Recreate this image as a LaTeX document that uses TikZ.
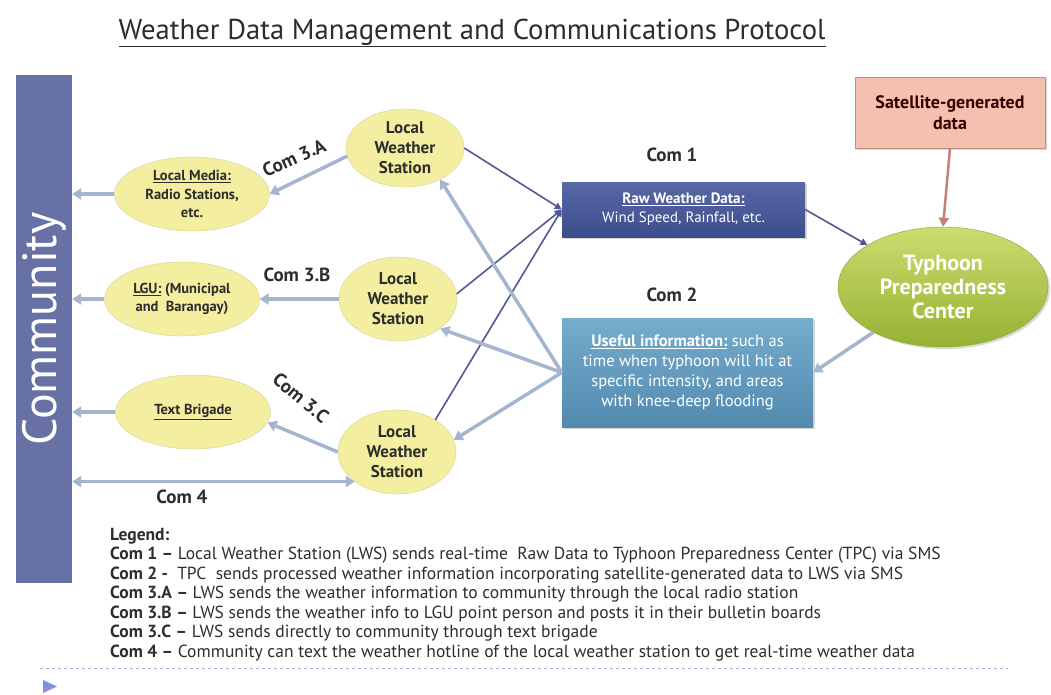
\documentclass[tikz,border=0pt]{standalone}
\usepackage{fontspec}
\setmainfont{PT Sans}
\usetikzlibrary{arrows.meta,shapes.geometric,shadows}

\definecolor{barblue}{RGB}{104,113,166}
\definecolor{lwsyellow}{RGB}{243,238,160}
\definecolor{lwsedge}{RGB}{214,208,150}
\definecolor{rawtop}{RGB}{88,104,166}
\definecolor{rawbot}{RGB}{62,76,138}
\definecolor{usetop}{RGB}{118,172,204}
\definecolor{usebot}{RGB}{82,138,176}
\definecolor{tpctop}{RGB}{204,220,112}
\definecolor{tpcbot}{RGB}{150,178,50}
\definecolor{tpcedge}{RGB}{140,165,58}
\definecolor{satfill}{RGB}{244,192,176}
\definecolor{satedge}{RGB}{200,140,125}
\definecolor{lightline}{RGB}{164,182,206}
\definecolor{darkline}{RGB}{84,88,146}
\definecolor{satline}{RGB}{195,128,117}
\definecolor{txtgrey}{RGB}{45,45,45}

\begin{document}
\begin{tikzpicture}[x=1pt, y=-1pt,
    bar/.style={rectangle, fill=barblue, minimum width=508, minimum height=56, rotate=90, text=white, font=\fontsize{48}{48}\selectfont},
    station/.style={ellipse, draw=lwsedge, fill=lwsyellow, minimum width=118, minimum height=84, inner sep=0pt, align=center, text=txtgrey, font=\fontsize{17}{20}\selectfont\bfseries},
    target/.style={ellipse, draw=lwsedge, fill=lwsyellow, minimum width=155, minimum height=74, inner sep=0pt, align=center, text=txtgrey, font=\fontsize{14.5}{18.5}\selectfont\bfseries},
    databox/.style={rectangle, inner sep=0pt, align=center, text=white, font=\fontsize{15}{19}\selectfont, drop shadow={opacity=0.3, shadow xshift=2pt, shadow yshift=-2pt}},
    comlabel/.style={text=txtgrey, font=\fontsize{19}{19}\selectfont\bfseries},
    lightarrow/.style={draw=lightline, line width=3.5pt, -{Triangle[length=9pt, width=11pt]}},
    darkarrow/.style={draw=darkline, line width=1.6pt, -{Triangle[length=7pt, width=7pt]}}
]
    \useasboundingbox (0,0) rectangle (1051,694);

    % Title
    \node[text=txtgrey, font=\fontsize{28.7}{30}\selectfont] (title) at (472,33) {\underline{Weather Data Management and Communications Protocol}};

    % Community
    \node[bar] (community) at (44,329) {Community};

    % Receivers
    \node[target] (media) at (192,194) {\underline{Local Media:}\\Radio Stations,\\etc.};
    \node[target] (lgu) at (182,299) {\underline{LGU:} (Municipal\\and\ \ Barangay)};
    \node[target] (brigade) at (193,412) {\underline{Text Brigade}};

    % Local weather stations
    \node[station, minimum height=78] (lws1) at (405,148) {Local\\Weather\\Station};
    \node[station] (lws2) at (398,299) {Local\\Weather\\Station};
    \node[station] (lws3) at (397,452) {Local\\Weather\\Station};

    % Data boxes
    \node[databox, top color=rawtop, bottom color=rawbot, minimum width=243, minimum height=55] (raw) at (683.5,209.5) {\textbf{\underline{Raw Weather Data:}}\\Wind Speed, Rainfall, etc.};
    \node[databox, top color=usetop, bottom color=usebot, minimum width=251, minimum height=109, font=\fontsize{16.5}{20}\selectfont] (useful) at (687.5,372.5) {\textbf{\underline{Useful information:}} such as\\time when typhoon will hit at\\specific intensity, and areas\\with knee-deep flooding};
    \node[databox, fill=satfill, draw=satedge, text=black!80!red, minimum width=190, minimum height=71, font=\fontsize{18}{21}\selectfont\bfseries] (sat) at (950,112.5) {Satellite-generated\\data};
    \node[ellipse, draw=tpcedge, top color=tpctop, bottom color=tpcbot, minimum width=210, minimum height=120, inner sep=0pt, align=center, text=white, font=\fontsize{22}{24}\selectfont\bfseries, drop shadow={opacity=0.3, shadow xshift=2pt, shadow yshift=-2pt}] (tpc) at (943,287) {Typhoon\\Preparedness\\Center};

    % Labels
    \node[comlabel, rotate=24] (l3a) at (294,158) {Com 3.A};
    \node[comlabel] (l3b) at (297,275) {Com 3.B};
    \node[comlabel, rotate=-40] (l3c) at (301,398) {Com 3.C};
    \node[comlabel] (l4) at (182,497) {Com 4};
    \node[comlabel] (l1) at (672,155) {Com 1};
    \node[comlabel] (l2) at (672,295) {Com 2};

    % Com 3 and Com 4
    \draw[lightarrow] (lws1.188) -- (media.east);
    \draw[lightarrow] (lws2.west) -- (lgu.east);
    \draw[lightarrow] (lws3.west) -- (brigade.-8);
    \draw[lightarrow] (media.west) -- (media.west -| community.south);
    \draw[lightarrow] (lgu.west) -- (lgu.west -| community.south);
    \draw[lightarrow] (brigade.west) -- (brigade.west -| community.south);
    \draw[lightarrow, {Triangle[length=9pt, width=11pt]}-{Triangle[length=9pt, width=11pt]}] (lws3.215) -- (lws3.215 -| community.south);

    % Com 1
    \draw[darkarrow] (lws1.east) -- (raw.west);
    \draw[darkarrow] (lws2.5) -- (raw.west);
    \draw[darkarrow] (lws3.40) -- (raw.west);
    \draw[darkarrow] (raw.east) -- (tpc.151);

    % Com 2
    \draw[lightarrow] (tpc.213) -- (useful.east);
    \draw[lightarrow] (useful.west) -- (lws1.-42);
    \draw[lightarrow] (useful.west) -- (lws2.-35);
    \draw[lightarrow] (useful.west) -- (lws3.12);
    \draw[line width=2.5pt, draw=satline, -{Triangle[length=9pt, width=10pt]}] (sat.south) -- (tpc.north);

    % Legend
    \node[anchor=north west, inner sep=0pt, align=left, text=txtgrey, font=\fontsize{17.5}{19.5}\selectfont] (legend) at (110,528) {\textbf{Legend:}\\
        \textbf{Com 1 –} Local Weather Station (LWS) sends real-time\ \ Raw Data to Typhoon Preparedness Center (TPC) via SMS\\
        \textbf{Com 2 -}\ \ TPC\ \ sends processed weather information incorporating satellite-generated data to LWS via SMS\\
        \textbf{Com 3.A –} LWS sends the weather information to community through the local radio station\\
        \textbf{Com 3.B –} LWS sends the weather info to LGU point person and posts it in their bulletin boards\\
        \textbf{Com 3.C –} LWS sends directly to community through text brigade\\
        \textbf{Com 4 –} Community can text the weather hotline of the local weather station to get real-time weather data};
    \draw[lightline, dashed, line width=1pt] (40,668) -- (1008,668);
    \fill[lightline!80!blue] (43,680) -- (57,686.5) -- (43,693) -- cycle;
\end{tikzpicture}
\end{document}
